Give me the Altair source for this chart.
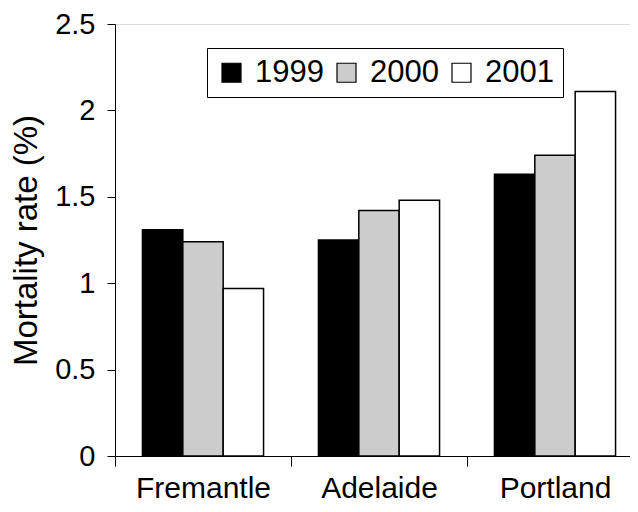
import altair as alt
import pandas as pd

sites = ["Fremantle", "Adelaide", "Portland"]
years = ["1999", "2000", "2001"]
rate_1999 = [1.31, 1.25, 1.63]
rate_2000 = [1.24, 1.42, 1.74]
rate_2001 = [0.97, 1.48, 2.11]

rows = []
for i, s in enumerate(sites):
    for y, vals in zip(years, [rate_1999, rate_2000, rate_2001]):
        rows.append({"site": s, "year": y, "rate": vals[i]})
df = pd.DataFrame(rows)

FONT = "Liberation Sans"

chart = alt.Chart(df).mark_bar(stroke="black", strokeWidth=1.5).encode(
    x=alt.X("site:N", sort=sites, title=None,
            scale=alt.Scale(paddingInner=0, paddingOuter=0, range=[0, 528]),
            axis=alt.Axis(labelAngle=0, tickBand="extent", labelFontSize=30,
                          labelFont=FONT, labelColor="black", domainColor="black",
                          tickColor="black", tickSize=10, labelPadding=7,
                          domainWidth=1, tickWidth=1)),
    xOffset=alt.XOffset("year:N", sort=years,
                        scale=alt.Scale(paddingInner=0, paddingOuter=0.68)),
    y=alt.Y("rate:Q", title="Mortality rate (%)",
            scale=alt.Scale(domain=[0, 2.5], nice=False),
            axis=alt.Axis(values=[0, 0.5, 1, 1.5, 2, 2.5], grid=False, format="~g",
                          labelFontSize=29, labelFont=FONT, labelColor="black",
                          titleFontSize=33, titleFont=FONT, titleFontWeight="normal",
                          titleColor="black", titlePadding=11,
                          domainColor="black", tickColor="black", tickSize=8,
                          labelPadding=12, labelFlush=False)),
    fill=alt.Fill("year:N", sort=years,
                  scale=alt.Scale(domain=years, range=["#000000", "#cccccc", "#ffffff"]),
                  legend=alt.Legend(title=None, orient="none", legendX=92, legendY=24,
                                    direction="horizontal", symbolType="square",
                                    symbolSize=361, symbolStrokeColor="black",
                                    symbolStrokeWidth=1.2, labelFontSize=31,
                                    labelFont=FONT, labelColor="black",
                                    labelOffset=8, columnPadding=7,
                                    padding=9, strokeColor="black",
                                    fillColor="white", cornerRadius=0)),
).properties(
    width=515, height=432,
    autosize=alt.AutoSizeParams(type="none"),
    padding={"left": 107, "top": 16, "right": 0, "bottom": 48},
).configure_view(stroke=None).configure(background="white")

chart.save("out.html", embed_options={"renderer": "svg", "actions": False})
